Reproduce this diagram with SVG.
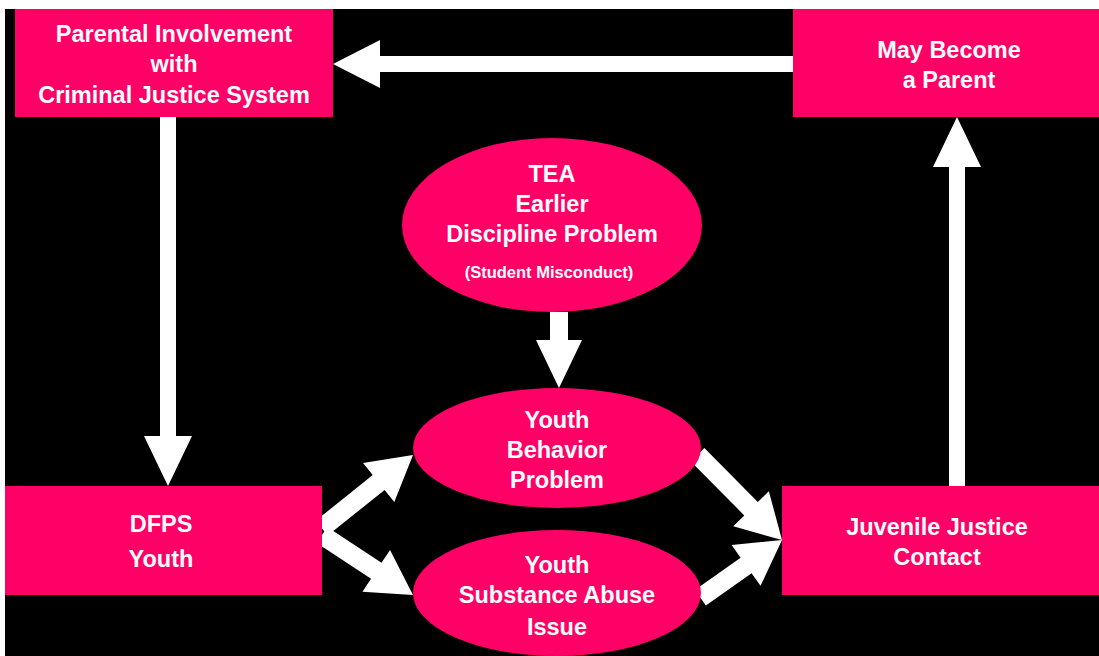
<svg xmlns="http://www.w3.org/2000/svg" width="1099" height="656" viewBox="0 0 1099 656">
<style>
.box{fill:#FF0066}
.t{font-family:"Liberation Sans",Arial,sans-serif;font-weight:bold;font-size:23.5px;fill:#FFFFFF;text-anchor:middle}
.s{font-family:"Liberation Sans",Arial,sans-serif;font-weight:bold;font-size:16.5px;fill:#FFFFFF;text-anchor:middle}
.arr{fill:#FFFFFF}
</style>
<rect x="0" y="0" width="1099" height="656" fill="#FFFFFF"/>
<rect x="5" y="9" width="1094" height="647" fill="#000000"/>
<g id="connectors">
<polygon class="arr" transform="translate(333,64) rotate(180)" points="0,0 -47,-24 -47,-8 -460,-8 -460,8 -47,8 -47,24"/>
<polygon class="arr" transform="translate(168,486) rotate(90)" points="0,0 -50,-24 -50,-8 -369,-8 -369,8 -50,8 -50,24"/>
<polygon class="arr" transform="translate(957,117) rotate(-90)" points="0,0 -50,-24 -50,-8 -369,-8 -369,8 -50,8 -50,24"/>
<polygon class="arr" transform="translate(559,388) rotate(90)" points="0,0 -48,-23 -48,-9 -76,-9 -76,9 -48,9 -48,23"/>
<polygon class="arr" transform="translate(413,455) rotate(-38.7)" points="0,0 -44,-25 -44,-9.5 -117,-9.5 -117,9.5 -44,9.5 -44,25"/>
<polygon class="arr" transform="translate(413,595) rotate(33.4)" points="0,0 -44,-25 -44,-9.5 -109,-9.5 -109,9.5 -44,9.5 -44,25"/>
<polygon class="arr" transform="translate(782,540) rotate(45.3)" points="0,0 -44,-25 -44,-9.5 -120,-9.5 -120,9.5 -44,9.5 -44,25"/>
<polygon class="arr" transform="translate(782,540) rotate(-35.3)" points="0,0 -44,-25 -44,-9.5 -100,-9.5 -100,9.5 -44,9.5 -44,25"/>
</g>
<g id="parental">
<rect class="box" x="15" y="9" width="318" height="108"/>
<text class="t" x="174" y="42">Parental Involvement</text>
<text class="t" x="174" y="72">with</text>
<text class="t" x="174" y="103">Criminal Justice System</text>
</g>
<g id="parent">
<rect class="box" x="793" y="9" width="306" height="108"/>
<text class="t" x="949" y="58">May Become</text>
<text class="t" x="949" y="88">a Parent</text>
</g>
<g id="tea">
<ellipse class="box" cx="552" cy="225" rx="150" ry="87"/>
<text class="t" x="552" y="182">TEA</text>
<text class="t" x="552" y="212">Earlier</text>
<text class="t" x="552" y="242">Discipline Problem</text>
<text class="s" x="549" y="278">(Student Misconduct)</text>
</g>
<g id="dfps">
<rect class="box" x="5" y="486" width="317" height="109"/>
<text class="t" x="161" y="532">DFPS</text>
<text class="t" x="161" y="567">Youth</text>
</g>
<g id="behavior">
<ellipse class="box" cx="557" cy="448" rx="144" ry="60"/>
<text class="t" x="557" y="428">Youth</text>
<text class="t" x="557" y="458">Behavior</text>
<text class="t" x="557" y="488">Problem</text>
</g>
<g id="substance">
<ellipse class="box" cx="557" cy="593" rx="144" ry="63"/>
<text class="t" x="557" y="573">Youth</text>
<text class="t" x="557" y="603">Substance Abuse</text>
<text class="t" x="557" y="635">Issue</text>
</g>
<g id="juvenile">
<rect class="box" x="782" y="486" width="317" height="109"/>
<text class="t" x="937" y="535">Juvenile Justice</text>
<text class="t" x="937" y="565">Contact</text>
</g>
</svg>
